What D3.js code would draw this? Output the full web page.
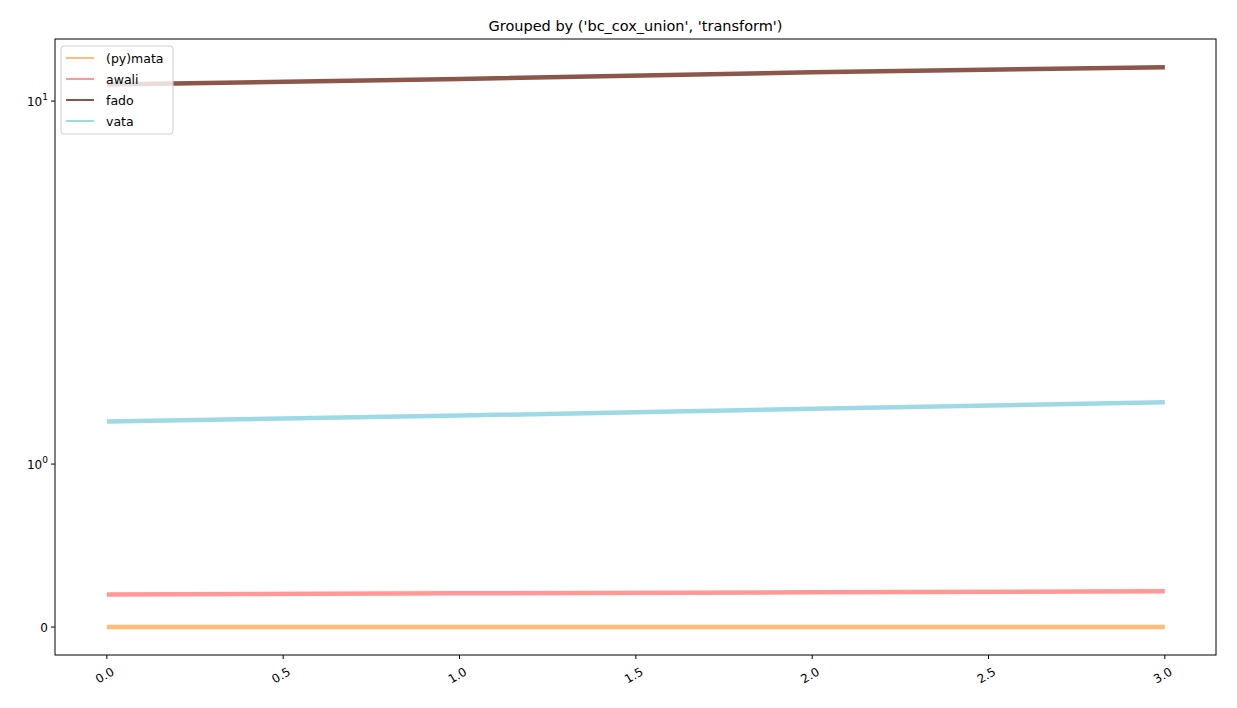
<!DOCTYPE html>
<html><head><meta charset="utf-8">
<script src="https://cdn.jsdelivr.net/npm/d3@7"></script>
<style>body{margin:0;background:#fff}text{font-family:"DejaVu Sans",sans-serif}</style>
</head><body><svg id="chart"></svg>
<script>
var width = 1237, height = 708,
	margin = {left: 55, right: 21, top: 39, bottom: 53};

// data
var xValues = [0, 1, 2, 3];
var seriesNames = ['(py)mata', 'awali', 'fado', 'vata'];
var seriesColors = ['#ffbb78', '#ff9896', '#8c564b', '#9edae5'];
var mataValues = [0, 0, 0, 0];
var awaliValues = [0.20, 0.207, 0.213, 0.22];
var fadoValues = [11.1, 11.5, 12.0, 12.4];
var vataValues = [1.31, 1.36, 1.42, 1.48];
var xTicks = [0, 0.5, 1, 1.5, 2, 2.5, 3];
var yTicks = [0, 1, 10];
var yTickLabels = ['0', '10', '10'];
var yTickExps = ['', '0', '1'];

var allSeries = [mataValues, awaliValues, fadoValues, vataValues];

var svg = d3.select('#chart').attr('width', width).attr('height', height);

// symlog-like transform: linear below 1, log10 above
var linPart = 0.449;
function tf(v) { return v <= 1 ? v * linPart : linPart + Math.log10(v); }

var x = d3.scaleLinear().domain([-0.147, 3.145]).range([margin.left, width - margin.right]);
var yt = d3.scaleLinear().domain([-0.077, 1.62]).range([height - margin.bottom, margin.top]);
var y = function(v) { return yt(tf(v)); };

svg.append('text')
	.attr('x', (margin.left + width - margin.right) / 2).attr('y', 31)
	.attr('text-anchor', 'middle').attr('font-size', 14.5)
	.text("Grouped by ('bc_cox_union', 'transform')");

var line = d3.line().x(function(d, i) { return x(xValues[i]); }).y(function(d) { return y(d); });

svg.selectAll('.series')
	.data(allSeries)
	.enter().append('path')
		.attr('class', 'series')
		.attr('fill', 'none')
		.attr('stroke', function(d, i) { return seriesColors[i]; })
		.attr('stroke-width', 4.5)
		.attr('d', line);

// axes frame
svg.append('rect')
	.attr('x', margin.left).attr('y', margin.top)
	.attr('width', width - margin.left - margin.right)
	.attr('height', height - margin.top - margin.bottom)
	.attr('fill', 'none').attr('stroke', '#000').attr('stroke-width', 1);

// x ticks
var xg = svg.append('g');
xTicks.forEach(function(t) {
	var px = x(t), py = height - margin.bottom;
	xg.append('line').attr('x1', px).attr('x2', px).attr('y1', py).attr('y2', py + 4).attr('stroke', '#000');
	xg.append('text')
		.attr('transform', 'translate(' + (px + 4) + ',' + (py + 12) + ') rotate(-30)')
		.attr('text-anchor', 'end').attr('dy', '0.7em').attr('font-size', 12)
		.text(t.toFixed(1));
});

// y ticks
var yg = svg.append('g');
yTicks.forEach(function(t, i) {
	var py = y(t);
	yg.append('line').attr('x1', margin.left - 4).attr('x2', margin.left).attr('y1', py).attr('y2', py).attr('stroke', '#000');
	var txt = yg.append('text')
		.attr('x', margin.left - 7).attr('y', py + 4.5)
		.attr('text-anchor', 'end').attr('font-size', 12);
	txt.append('tspan').text(yTickLabels[i]);
	if (yTickExps[i]) txt.append('tspan').attr('dy', -6).attr('font-size', 9).text(yTickExps[i]);
});

// legend
var lg = svg.append('g').attr('transform', 'translate(61,46)');
lg.append('rect').attr('width', 112).attr('height', 88).attr('rx', 3)
	.attr('fill', '#fff').attr('fill-opacity', 0.8).attr('stroke', '#ccc');
seriesNames.forEach(function(n, i) {
	var ly = 12 + i * 21;
	lg.append('line').attr('x1', 5).attr('x2', 33).attr('y1', ly).attr('y2', ly)
		.attr('stroke', seriesColors[i]).attr('stroke-width', 2);
	lg.append('text').attr('x', 45).attr('y', ly + 4.5).attr('font-size', 12.5).text(n);
});
</script>
</body></html>
